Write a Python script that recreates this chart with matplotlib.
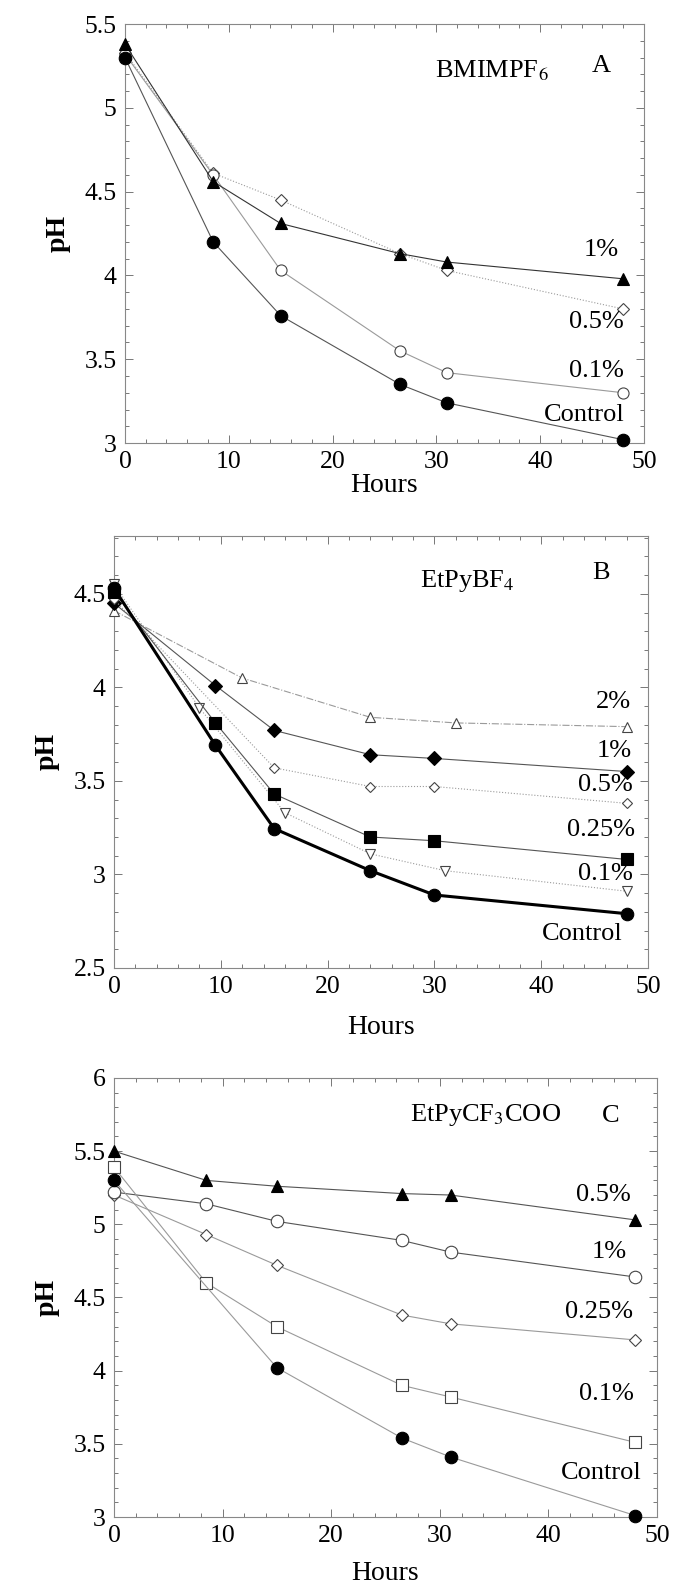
import numpy as np
import matplotlib
matplotlib.use('Agg')
import matplotlib.pyplot as plt
from matplotlib.ticker import MultipleLocator, FormatStrFormatter

plt.rcParams['font.family'] = ['Liberation Serif', 'DejaVu Serif']
plt.rcParams['mathtext.fontset'] = 'stix'

# ---- panel A : BMIMPF6 ----
a_hours = [0, 8.5, 15, 26.5, 31, 48]
a_1pct = [5.38, 4.56, 4.31, 4.13, 4.08, 3.98]
a_05pct = [5.33, 4.61, 4.45, 4.13, 4.03, 3.80]
a_01pct = [5.32, 4.60, 4.03, 3.55, 3.42, 3.30]
a_ctrl = [5.30, 4.20, 3.76, 3.35, 3.24, 3.02]

# ---- panel B : EtPyBF4 ----
b_ctrl_h = [0, 9.5, 15, 24, 30, 48]
b_ctrl = [4.53, 3.69, 3.245, 3.02, 2.89, 2.79]
b_025_h = [0, 9.5, 15, 24, 30, 48]
b_025 = [4.51, 3.81, 3.43, 3.20, 3.18, 3.08]
b_01_h = [0, 8, 16, 24, 31, 48]
b_01 = [4.55, 3.89, 3.33, 3.11, 3.02, 2.91]
b_05_h = [0, 15, 24, 30, 48]
b_05 = [4.47, 3.57, 3.47, 3.47, 3.38]
b_1_h = [0, 9.5, 15, 24, 30, 48]
b_1 = [4.45, 4.01, 3.77, 3.64, 3.62, 3.55]
b_2_h = [0, 12, 24, 32, 48]
b_2 = [4.41, 4.05, 3.84, 3.81, 3.79]

# ---- panel C : EtPyCF3COO ----
c_hours = [0, 8.5, 15, 26.5, 31, 48]
c_05 = [5.50, 5.30, 5.26, 5.21, 5.20, 5.03]
c_1 = [5.22, 5.14, 5.02, 4.89, 4.81, 4.64]
c_025 = [5.20, 4.93, 4.72, 4.38, 4.32, 4.21]
c_01 = [5.39, 4.60, 4.30, 3.90, 3.82, 3.51]
c_ctrl_h = [0, 15, 26.5, 31, 48]
c_ctrl = [5.30, 4.02, 3.54, 3.41, 3.01]

fig = plt.figure(figsize=(6.73, 15.92), dpi=100)
axA = fig.add_axes([0.1857, 0.7217, 0.7712, 0.2632])
axB = fig.add_axes([0.1694, 0.3920, 0.7935, 0.2714])
axC = fig.add_axes([0.1694, 0.0471, 0.8068, 0.2758])

FS = 18.5   # tick labels
TS = 19     # annotations
lgray = '#9a9a9a'
mgray = '#555555'


def style(ax, ylo, yhi):
    ax.set_xlim(0, 50)
    ax.set_ylim(ylo, yhi)
    ax.xaxis.set_major_locator(MultipleLocator(10))
    ax.xaxis.set_minor_locator(MultipleLocator(2))
    ax.yaxis.set_major_locator(MultipleLocator(0.5))
    ax.yaxis.set_minor_locator(MultipleLocator(0.1))
    ax.yaxis.set_major_formatter(FormatStrFormatter('%g'))
    ax.tick_params(which='both', direction='in', top=True, right=True,
                   labelsize=FS, color='#777777', width=0.7)
    ax.tick_params(which='major', length=6, pad=6)
    ax.tick_params(which='minor', length=3)
    for s in ax.spines.values():
        s.set_color('#888888')
        s.set_linewidth(0.8)
    ax.set_ylabel('pH', fontsize=20, fontweight='bold', labelpad=10)


def line(ax, x, y, marker, filled, color=mgray, lw=0.8, ms=8, ls='-'):
    ax.plot(x, y, ls, color=color, lw=lw, marker=marker, markersize=ms,
            markerfacecolor='black' if filled else 'white',
            markeredgecolor='black' if filled else '#444444',
            markeredgewidth=0.8, clip_on=False, zorder=3)


def note(ax, x, y, s):
    ax.text(x, y, s, fontsize=TS, ha='center', va='center')


# panel A
style(axA, 3, 5.5)
line(axA, a_hours, a_05pct, 'D', False, color=lgray, ms=6, ls=':')
line(axA, a_hours, a_01pct, 'o', False, color=lgray, ms=8)
line(axA, a_hours, a_ctrl, 'o', True, color=mgray, ms=9)
line(axA, a_hours, a_1pct, '^', True, color='#333333', ms=8)
axA.set_xlabel('Hours', fontsize=20, labelpad=0)
note(axA, 35.3, 5.22, 'BMIMPF$_6$')
note(axA, 45.9, 5.25, 'A')
note(axA, 45.9, 4.15, '1%')
note(axA, 45.4, 3.72, '0.5%')
note(axA, 45.4, 3.43, '0.1%')
note(axA, 44.2, 3.17, 'Control')

# panel B
style(axB, 2.5, 4.81)
line(axB, b_2_h, b_2, '^', False, color=lgray, ms=7, ls='-.')
line(axB, b_1_h, b_1, 'D', True, color=mgray, ms=7)
line(axB, b_05_h, b_05, 'D', False, color=lgray, ms=5, ls=':')
line(axB, b_01_h, b_01, 'v', False, color=lgray, ms=7, ls=':')
line(axB, b_025_h, b_025, 's', True, color=mgray, ms=9)
line(axB, b_ctrl_h, b_ctrl, 'o', True, color='black', lw=2.2, ms=9)
axB.set_xlabel('Hours', fontsize=20, labelpad=12)
note(axB, 33.1, 4.57, 'EtPyBF$_4$')
note(axB, 45.6, 4.61, 'B')
note(axB, 46.8, 3.92, '2%')
note(axB, 46.8, 3.66, '1%')
note(axB, 46.0, 3.48, '0.5%')
note(axB, 45.6, 3.24, '0.25%')
note(axB, 46.0, 3.00, '0.1%')
note(axB, 43.8, 2.68, 'Control')

# panel C
style(axC, 3, 6)
line(axC, c_hours, c_025, 'D', False, color=lgray, ms=6, ls='-')
line(axC, c_hours, c_1, 'o', False, color=mgray, ms=9)
line(axC, c_hours, c_01, 's', False, color=lgray, ms=9)
line(axC, c_ctrl_h, c_ctrl, 'o', True, color=lgray, ms=9)
line(axC, c_hours, c_05, '^', True, color=mgray, ms=8)
axC.set_xlabel('Hours', fontsize=20, labelpad=10)
note(axC, 34.2, 5.75, 'EtPyCF$_3$COO')
note(axC, 45.7, 5.74, 'C')
note(axC, 45.1, 5.20, '0.5%')
note(axC, 45.6, 4.81, '1%')
note(axC, 44.7, 4.40, '0.25%')
note(axC, 45.3, 3.84, '0.1%')
note(axC, 44.9, 3.30, 'Control')

fig.savefig('out.png', dpi=100)
